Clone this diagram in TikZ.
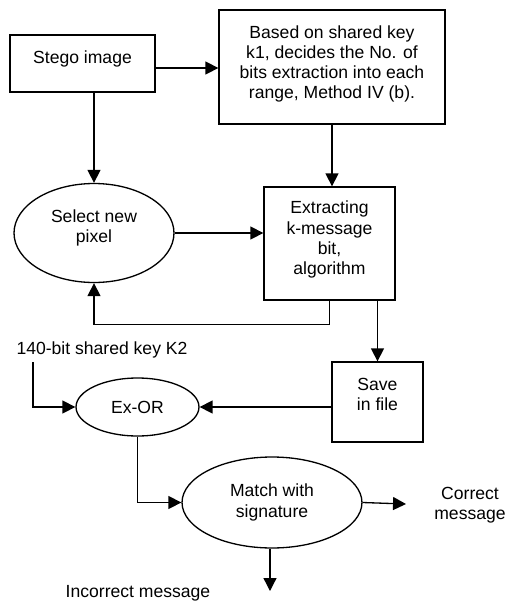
\documentclass[tikz,border=0pt]{standalone}
\usepackage{fontspec}
\setmainfont{Liberation Sans}
\usepackage{tikz}
\usetikzlibrary{shapes.geometric, arrows.meta, positioning, calc}
\tikzset{
  block/.style={rectangle, draw=black, fill=white, align=center,
    font=\fontsize{10}{11.5}\selectfont, inner sep=0pt, line width=0.75pt},
  oval/.style={ellipse, draw=black, fill=white, align=center,
    font=\fontsize{10}{11.5}\selectfont, inner sep=0pt, line width=0.75pt},
  label/.style={align=center, font=\fontsize{10}{11.5}\selectfont, inner sep=0pt},
  arrow/.style={-{Triangle[length=0.26cm, width=0.26cm]}, line width=0.75pt, color=black},
  line/.style={line width=0.75pt, color=black}
}

\begin{document}
\begin{tikzpicture}[x=0.02cm, y=-0.02cm]
  \useasboundingbox (0,0) rectangle (505,603);

  \node[block, minimum width=2.9cm, minimum height=1.14cm, text depth=0.27cm] (stego) at (82.5,63.5) {Stego image};
  \node[block, minimum width=4.52cm, minimum height=2.28cm, text depth=0.19cm] (key) at (332,67)
    {Based on shared key\\ k1, decides the No. of\\ bits extraction into each\\ range, Method IV (b).};
  \node[oval, minimum width=3.2cm, minimum height=1.98cm, text depth=0.27cm] (select) at (94,233) {Select new\\ pixel};
  \node[block, minimum width=2.62cm, minimum height=2.26cm, text depth=0.23cm] (extract) at (329.5,243.5)
    {Extracting\\ k-message\\ bit,\\ algorithm};
  \node[block, minimum width=1.82cm, minimum height=1.6cm, text depth=0.32cm] (save) at (377.5,402) {Save\\ in file};
  \node[label] (key2) at (102,350) {140-bit shared key K2};
  \node[oval, minimum width=2.46cm, minimum height=1.16cm] (exor) at (137.5,407) {Ex-OR};
  \node[oval, minimum width=3.6cm, minimum height=1.82cm] (match) at (272,502.5) {Match with\\ signature};
  \node[label] (correct) at (470,505) {Correct\\ message};
  \node[label] (incorrect) at (138,593) {Incorrect message};

  \coordinate (k2in) at (33,362);
  \coordinate (fail) at (270,591);

  \draw[arrow] ([yshift=-0.09cm]stego.east) -- ([yshift=-0.09cm]stego.east -| key.west);
  \draw[arrow] (select |- stego.south) -- (select.north);
  \draw[arrow] (key.south) -- (key.south |- extract.north);
  \draw[arrow] (select.east) -- (select.east -| extract.west);
  \draw[arrow] (extract.south) -- ++(0,24) -| (select.south);
  \draw[arrow] (save.north |- extract.south) -- (save.north);
  \draw[arrow] (k2in) |- (exor.west);
  \draw[arrow] (save.west |- exor) -- (exor.east);
  \draw[arrow] (exor.south) |- (match.west);
  \draw[arrow, shorten >=0.56cm] (match.east) -- (correct.west);
  \draw[arrow] (match.south -| fail) -- (fail);
\end{tikzpicture}
\end{document}
